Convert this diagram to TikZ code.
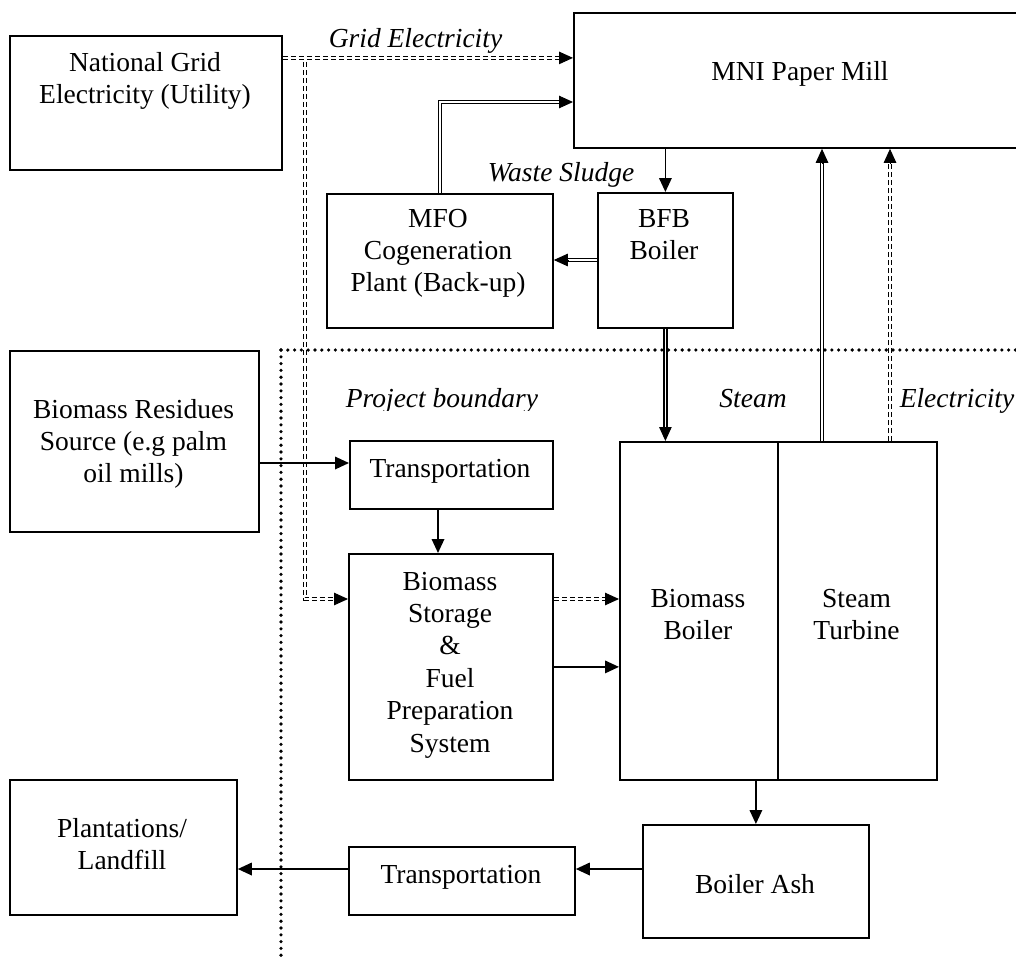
\documentclass[tikz,border=0pt]{standalone}
\usepackage{fontspec}
\setmainfont{Liberation Serif}
\usetikzlibrary{arrows.meta,calc}
\newcommand\mlines[1]{\begin{tabular}[t]{@{}c@{}}#1\end{tabular}}
\begin{document}
\begin{tikzpicture}[x=1pt,y=-1pt,
  font=\fontsize{27.5}{32.4}\selectfont,
  box/.style={draw, line width=1.8pt, inner sep=0pt, anchor=north west},
  txt/.style={inner sep=0pt, anchor=base},
  lbl/.style={inner sep=0pt, anchor=base, font=\fontsize{27.5}{32.4}\selectfont\itshape},
  arr/.style={line width=1.8pt, -{Triangle[length=14pt,width=12.5pt]}},
  dbl/.style={double, line width=1.2pt, double distance=1.8pt, shorten >=10pt},
  dbldash/.style={dbl, dash pattern=on 5pt off 3pt},
  tipa/.style={line width=1pt, -{Triangle[length=14pt,width=12.5pt]}},
  bound/.style={line width=3.6pt, line cap=round, dash pattern=on 0pt off 6.8pt}
]
\useasboundingbox (0,0) rectangle (1016,956);
\clip (0,0) rectangle (1016,956);

% boxes
\node[box, minimum width=272pt, minimum height=134pt] (grid) at (9,35) {};
\node[box, minimum width=454pt, minimum height=135pt] (mni) at (573,12) {};
\node[box, minimum width=226pt, minimum height=134pt] (mfo) at (326,193) {};
\node[box, minimum width=135pt, minimum height=135pt] (bfb) at (597,192) {};
\node[box, minimum width=249pt, minimum height=181pt] (res) at (9,350) {};
\node[box, minimum width=203pt, minimum height=68pt] (tr1) at (349,440) {};
\node[box, minimum width=204pt, minimum height=226pt] (sto) at (348,553) {};
\node[box, minimum width=158pt, minimum height=338pt] (bb) at (619,441) {};
\node[box, minimum width=159pt, minimum height=338pt] (st) at (777,441) {};
\node[box, minimum width=226pt, minimum height=113pt] (ash) at (642,824) {};
\node[box, minimum width=226pt, minimum height=68pt] (tr2) at (348,846) {};
\node[box, minimum width=227pt, minimum height=135pt] (pl) at (9,779) {};

% texts
\node[txt] (grid-t) at (145,71) {\mlines{National Grid\\Electricity (Utility)}};
\node[txt] (mni-t) at (800,80) {MNI Paper Mill};
\node[txt] (mfo-t) at (438,227) {\mlines{MFO\\Cogeneration\\Plant (Back-up)}};
\node[txt] (bfb-t) at (664,227) {\mlines{BFB\\Boiler}};
\node[txt] (res-t) at (133.5,418) {\mlines{Biomass Residues\\Source (e.g palm\\oil mills)}};
\node[txt] (tr1-t) at (450,477) {Transportation};
\node[txt] (sto-t) at (450,590) {\mlines{Biomass\\Storage\\\&\\Fuel\\Preparation\\System}};
\node[txt] (bb-t) at (698,607) {\mlines{Biomass\\Boiler}};
\node[txt] (st-t) at (856.5,607) {\mlines{Steam\\Turbine}};
\node[txt] (ash-t) at (755,893) {Boiler Ash};
\node[txt] (tr2-t) at (461,883) {Transportation};
\node[txt] (pl-t) at (122,837) {\mlines{Plantations/\\Landfill}};

% labels
\node[lbl] (l-grid) at (415.5,47) {Grid Electricity};
\node[lbl] (l-ws) at (561,181) {Waste Sludge};
\begin{scope}
  \clip (330,370) rectangle (560,410);
  \node[lbl] (l-pb) at (442,407) {Project boundary};
\end{scope}
\node[lbl] (l-steam) at (753,407) {Steam};
\node[lbl] (l-el) at (957,407) {Electricity};

% project boundary
\coordinate (pb) at (281,350);
\draw[bound] (pb) -- (1020,350);
\draw[bound] (pb) -- (281,956);

% grid electricity
\coordinate (g1) at ([yshift=45pt]grid.east);
\coordinate (g2) at ($(g1)+(22,4)$);
\coordinate (s1) at ([yshift=-46pt]sto.north west);
\draw[dbldash] (g1) -- (g1 -| mni.west);
\draw[tipa] ($(g1 -| mni.west)+(-14,0)$) -- (g1 -| mni.west);
\draw[dbldash] (g2) |- (s1);
\draw[tipa] ($(s1)+(-14,0)$) -- (s1);

% MFO -> MNI
\coordinate (m2) at ([yshift=-90pt]mni.north west);
\draw[dbl] (mfo.north) |- (m2);
\draw[tipa] ($(m2)+(-14,0)$) -- (m2);

% MNI -> BFB
\draw[arr] (bfb.north |- mni.south) -- (bfb.north);

% BFB -> MFO
\coordinate (b1) at ([yshift=-68pt]bfb.north west);
\draw[dbl] (b1) -- (b1 -| mfo.east);
\draw[tipa] ($(b1 -| mfo.east)+(14,0)$) -- (b1 -| mfo.east);

% BFB -> Biomass Boiler
\draw[dbl] (bfb.south) -- (bfb.south |- bb.north);
\draw[tipa] ($(bfb.south |- bb.north)+(0,-14)$) -- (bfb.south |- bb.north);

% Steam
\coordinate (s2) at ([xshift=45pt]st.north west);
\draw[dbl] (s2) -- (s2 |- mni.south);
\draw[tipa] ($(s2 |- mni.south)+(0,14)$) -- (s2 |- mni.south);

% Electricity
\coordinate (e1) at ([xshift=113pt]st.north west);
\draw[dbldash] (e1) -- (e1 |- mni.south);
\draw[tipa] ($(e1 |- mni.south)+(0,14)$) -- (e1 |- mni.south);

% Residues -> Transportation
\coordinate (r1) at ([yshift=-113pt]res.north east);
\draw[arr] (r1) -- (r1 -| tr1.west);

% Transportation -> Storage
\coordinate (t1) at ([xshift=89pt]tr1.south west);
\draw[arr] (t1) -- (t1 |- sto.north);

% Storage -> Biomass Boiler
\coordinate (s3) at ([yshift=-46pt]sto.north east);
\draw[dbldash] (s3) -- (s3 -| bb.west);
\draw[tipa] ($(s3 -| bb.west)+(-14,0)$) -- (s3 -| bb.west);
\draw[arr] (sto.east) -- (sto.east -| bb.west);

% Biomass Boiler -> Ash
\draw[arr] (ash.north |- bb.south) -- (ash.north);

% Ash -> Transportation -> Plantations
\coordinate (a1) at ([yshift=-45pt]ash.north west);
\draw[arr] (a1) -- (a1 -| tr2.east);
\draw[arr] (a1 -| tr2.west) -- (a1 -| pl.east);
\end{tikzpicture}
\end{document}
